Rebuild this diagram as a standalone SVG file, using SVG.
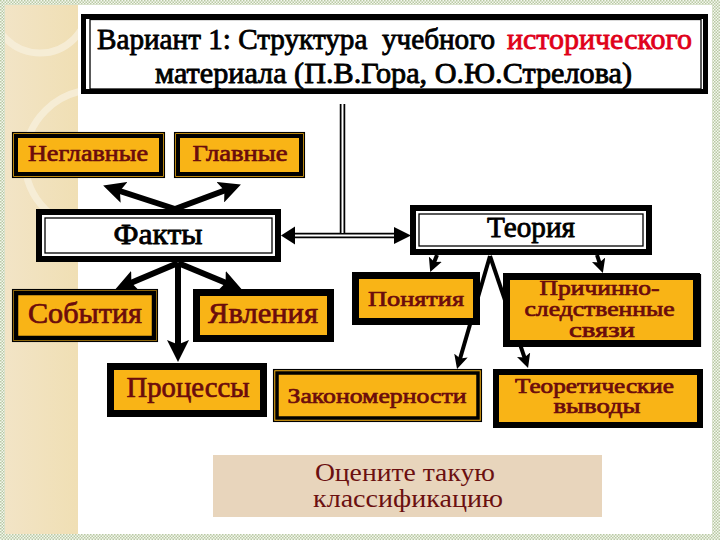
<svg xmlns="http://www.w3.org/2000/svg" width="720" height="540" viewBox="0 0 720 540">
<defs>
<pattern id="dots" width="3" height="3" patternUnits="userSpaceOnUse">
<rect width="3" height="3" fill="#f4f7ee"/>
<rect x="0" y="0" width="1.5" height="1.5" fill="#b9c9a4"/>
<rect x="1.5" y="1.5" width="1.5" height="1.5" fill="#b9c9a4"/>
</pattern>
<linearGradient id="strip" x1="0" y1="0" x2="1" y2="0">
<stop offset="0" stop-color="#f2e4c6"/>
<stop offset="1" stop-color="#f0dfb4"/>
</linearGradient>
<clipPath id="stripClip"><rect x="5" y="5" width="73" height="529"/></clipPath>
<marker id="ah" markerUnits="userSpaceOnUse" markerWidth="22" markerHeight="22" viewBox="0 0 20 20" refX="10" refY="10" orient="auto">
<path d="M0,0 L20,10 L0,20 L4,10 Z" fill="#000"/>
</marker>
<marker id="ahs" markerUnits="userSpaceOnUse" markerWidth="14" markerHeight="14" viewBox="0 0 14 14" refX="7" refY="7" orient="auto">
<path d="M0,0 L14,7 L0,14 L3,7 Z" fill="#000"/>
</marker>
<style>
text{font-family:"Liberation Serif","Times New Roman",serif;font-weight:normal;stroke-linejoin:round}
.m{fill:#6b0c0c;stroke:#6b0c0c;stroke-width:0.7}
.k{fill:#000;stroke:#000;stroke-width:0.85}
.r{fill:#e0001a;stroke:#e0001a;stroke-width:0.85}
.org{fill:#f9b416}
.thinb{fill:none;stroke:#000;stroke-width:1.3}
.tb{stroke:#000;stroke-width:7}
.arr{stroke:#000;stroke-width:6;fill:none}
.arrs{stroke:#000;stroke-width:4;fill:none}
.dbl{stroke:#000;stroke-width:5.5;fill:none}
.dblw{stroke:#fff;stroke-width:2;fill:none}
</style>
</defs>

<!-- background -->
<rect width="720" height="540" fill="url(#dots)"/>
<rect x="5" y="5" width="707" height="529" fill="#fff"/>
<rect x="5" y="5" width="73" height="529" fill="url(#strip)"/>
<g clip-path="url(#stripClip)" fill="none" stroke="#f8f0dc" stroke-width="7" opacity="0.8">
<circle cx="40" cy="5" r="48"/>
<circle cx="95" cy="160" r="70"/>
</g>

<!-- connectors -->
<g id="connectors">
<line class="dbl" x1="342.5" y1="104" x2="342.5" y2="234"/>
<line class="dbl" x1="293" y1="235.5" x2="396" y2="235.5"/>
<line class="dblw" x1="342.5" y1="104" x2="342.5" y2="233"/>
<line class="dblw" x1="293" y1="235.5" x2="396" y2="235.5"/>
<polygon points="281,235.5 295,226.5 295,244.5" fill="#000"/>
<polygon points="411,235.5 394,227 394,244" fill="#000"/>

<line class="arr" x1="175" y1="209" x2="113.6" y2="189" marker-end="url(#ah)"/>
<line class="arr" x1="175" y1="209" x2="230.6" y2="188.3" marker-end="url(#ah)"/>
<line class="arr" x1="178" y1="263" x2="125.3" y2="285.3" marker-end="url(#ah)"/>
<line class="arr" x1="178" y1="263" x2="231.7" y2="285.3" marker-end="url(#ah)"/>
<line class="arr" x1="178" y1="263" x2="178" y2="351" marker-end="url(#ah)"/>

<line class="arrs" x1="490" y1="256" x2="459" y2="362.3" marker-end="url(#ahs)"/>
<line class="arrs" x1="490" y1="256" x2="525.8" y2="361.4" marker-end="url(#ahs)"/>
<line class="arrs" x1="437" y1="255" x2="432.8" y2="265.6" marker-end="url(#ahs)"/>
<line class="arrs" x1="597" y1="255" x2="600.7" y2="266.4" marker-end="url(#ahs)"/>
</g>

<!-- title -->
<g id="title">
<rect x="83.5" y="16.5" width="622" height="75" fill="#fff" stroke="#000" stroke-width="5"/>
<rect x="90" y="19.5" width="611" height="69.5" class="thinb"/>
<rect x="703" y="16" width="5" height="78" fill="#000"/>
<text class="k" x="97" y="49" font-size="30" textLength="398" lengthAdjust="spacingAndGlyphs" style="white-space:pre">Вариант 1: Структура  учебного</text>
<text class="r" x="507" y="49" font-size="30" textLength="185" lengthAdjust="spacingAndGlyphs">исторического</text>
<text class="k" x="393.5" y="83" font-size="30" text-anchor="middle" textLength="477" lengthAdjust="spacingAndGlyphs">материала (П.В.Гора, О.Ю.Стрелова)</text>
</g>

<g id="neglavnye">
<rect x="12" y="132" width="153" height="46" class="org"/>
<rect x="12.6" y="132.6" width="151.8" height="44.8" class="thinb"/>
<rect x="16" y="136" width="145" height="38" fill="none" stroke="#000" stroke-width="4"/>
<text class="m" x="88" y="161" font-size="23" text-anchor="middle" textLength="120" lengthAdjust="spacingAndGlyphs">Неглавные</text>
</g>

<g id="glavnye">
<rect x="174" y="132" width="131" height="46" class="org"/>
<rect x="174.6" y="132.6" width="129.8" height="44.8" class="thinb"/>
<rect x="178" y="136" width="123" height="38" fill="none" stroke="#000" stroke-width="4"/>
<text class="m" x="240" y="161" font-size="23" text-anchor="middle" textLength="95" lengthAdjust="spacingAndGlyphs">Главные</text>
</g>

<g id="fakty">
<rect x="39" y="212" width="239" height="47" fill="#fff" stroke="#000" stroke-width="6"/>
<rect x="45" y="218" width="227" height="35" class="thinb"/>
<text class="k" x="158" y="244" font-size="30" text-anchor="middle" textLength="89" lengthAdjust="spacingAndGlyphs">Факты</text>
</g>

<g id="teoriya">
<rect x="413" y="208" width="236" height="44" fill="#fff" stroke="#000" stroke-width="6"/>
<rect x="419" y="214" width="224" height="32" class="thinb"/>
<text class="k" x="531" y="237" font-size="30" text-anchor="middle" textLength="88" lengthAdjust="spacingAndGlyphs">Теория</text>
</g>

<g id="sobytiya">
<rect x="12" y="289" width="146" height="53" class="org"/>
<rect x="12.6" y="289.6" width="144.8" height="51.8" class="thinb"/>
<rect x="16" y="293" width="138" height="45" fill="none" stroke="#000" stroke-width="4.5"/>
<text class="m" x="85" y="323" font-size="29" text-anchor="middle" textLength="114" lengthAdjust="spacingAndGlyphs">События</text>
</g>

<g id="yavleniya">
<rect x="196.5" y="292.5" width="134" height="46" class="org tb"/>
<text class="m" x="263" y="323" font-size="29" text-anchor="middle" textLength="110" lengthAdjust="spacingAndGlyphs">Явления</text>
</g>

<g id="processy">
<rect x="110.5" y="366.5" width="153" height="47" class="org tb"/>
<text class="m" x="188" y="397" font-size="29" text-anchor="middle" textLength="123" lengthAdjust="spacingAndGlyphs">Процессы</text>
</g>

<g id="ponyatiya">
<rect x="355.5" y="275.5" width="121" height="46" class="org tb"/>
<line x1="478.5" y1="273" x2="478.5" y2="325" stroke="#000" stroke-width="1.2"/>
<text class="m" x="416" y="306" font-size="21" text-anchor="middle" textLength="96" lengthAdjust="spacingAndGlyphs">Понятия</text>
</g>

<g id="prichinno">
<rect x="506.5" y="276.5" width="190" height="67" class="org tb"/>
<line x1="700.5" y1="274" x2="700.5" y2="347" stroke="#000" stroke-width="1.2"/>
<text class="m" font-size="20" text-anchor="middle">
<tspan x="602" y="295" textLength="120" lengthAdjust="spacingAndGlyphs">Причинно-</tspan>
<tspan x="602" y="316" textLength="150" lengthAdjust="spacingAndGlyphs">следственные</tspan>
<tspan x="602" y="336.5" textLength="66" lengthAdjust="spacingAndGlyphs">связи</tspan>
</text>
</g>

<g id="zakonomernosti">
<rect x="273" y="369" width="209" height="53" class="org"/>
<rect x="273.6" y="369.6" width="207.8" height="51.8" class="thinb"/>
<rect x="277" y="373" width="201" height="45" fill="none" stroke="#000" stroke-width="3.5"/>
<text class="m" x="377" y="403" font-size="22" text-anchor="middle" textLength="179" lengthAdjust="spacingAndGlyphs">Закономерности</text>
</g>

<g id="teoreticheskie">
<rect x="496" y="372" width="204" height="53" class="org" stroke="#000" stroke-width="6"/>
<text class="m" font-size="20" text-anchor="middle">
<tspan x="597" y="393" textLength="159" lengthAdjust="spacingAndGlyphs">Теоретические</tspan>
<tspan x="597" y="413" textLength="87" lengthAdjust="spacingAndGlyphs">выводы</tspan>
</text>
</g>

<g id="ocenite">
<rect x="213" y="455" width="389" height="62" fill="#e8d5bc"/>
<text font-size="25" fill="#6b1010" text-anchor="middle">
<tspan x="408" y="481" textLength="180" lengthAdjust="spacingAndGlyphs">Оцените такую</tspan>
<tspan x="408" y="507" textLength="190" lengthAdjust="spacingAndGlyphs">классификацию</tspan>
</text>
</g>
</svg>
